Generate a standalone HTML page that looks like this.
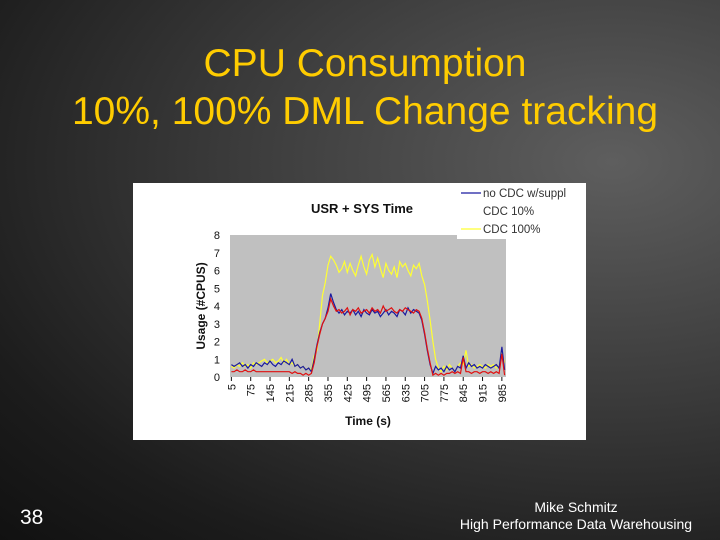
<!DOCTYPE html>
<html><head><meta charset="utf-8">
<style>
html,body{margin:0;padding:0}
body{width:720px;height:540px;overflow:hidden;position:relative;font-family:"Liberation Sans",Arial,sans-serif;
background:radial-gradient(ellipse at 85% 30%,#5e5e5e 0%,#3a3a3a 45%,#1c1c1c 80%,#111 100%);}
.t{position:absolute;left:0;width:730px;text-align:center;color:#ffcc00;font-size:39px}
</style></head><body>
<div class="t" style="top:42px">CPU Consumption</div>
<div class="t" style="top:90px">10%, 100% DML Change tracking</div>
<div style="position:absolute;left:20px;top:506px;color:#fff;font-size:21px">38</div>
<div style="position:absolute;left:430px;width:292px;top:499px;color:#fff;font-size:14px;text-align:center;line-height:17px">Mike Schmitz<br>High Performance Data Warehousing</div>
<svg id="c" width="720" height="540" style="position:absolute;left:0;top:0"></svg>
<script>
const times=[];for(let i=0;i<100;i++)times.push(5+10*i);
const xTickLabels=[5,75,145,215,285,355,425,495,565,635,705,775,845,915,985];
const yTickLabels=[0,1,2,3,4,5,6,7,8];
const seriesNames=["no CDC w/suppl","CDC 10%","CDC 100%"];
const blueVals=[.7,.6,.7,.8,.6,.7,.5,.7,.6,.8,.7,.6,.8,.7,.9,.7,.6,.8,.7,.9,.8,.7,1.0,.6,.7,.5,.6,.4,.5,.3,
1.0,1.8,2.5,3.0,3.3,3.9,4.7,4.2,3.8,3.6,3.8,3.5,3.7,3.6,3.8,3.5,3.7,3.4,3.8,3.6,3.5,3.8,3.6,3.7,3.4,3.6,3.8,3.5,3.7,3.6,
3.4,3.8,3.7,3.5,3.9,3.6,3.8,3.7,3.6,3.2,2.4,1.5,0.7,0.2,0.6,0.4,0.5,0.3,0.6,0.4,0.5,0.3,0.6,0.5,1.2,0.5,0.8,0.6,0.7,0.5,
0.6,0.5,0.7,0.6,0.5,0.6,0.7,0.5,1.7,0.4];
const redVals=[.3,.3,.4,.3,.3,.4,.3,.3,.4,.3,.3,.3,.3,.3,.3,.3,.3,.3,.3,.3,.3,.3,.2,.3,.2,.2,.1,.2,.1,.2,
.8,1.7,2.4,3.0,3.3,3.7,4.4,4.0,3.7,3.8,3.6,3.7,3.9,3.5,3.8,3.7,3.9,3.6,3.7,3.8,3.6,3.9,3.7,3.8,3.6,4.0,3.7,3.8,3.9,3.7,
3.6,3.8,3.7,3.9,3.8,3.7,3.6,3.8,3.7,3.3,2.5,1.6,0.8,0.1,0.2,0.1,0.2,0.1,0.2,0.2,0.3,0.2,0.3,0.2,1.1,0.3,0.3,0.2,0.3,0.3,
0.2,0.3,0.3,0.2,0.3,0.2,0.3,0.2,1.3,0.1];
const yellowVals=[.6,.5,.7,.6,.8,.6,.7,.5,.8,.7,.8,.9,1.0,.8,.9,1.0,.8,.9,1.1,.8,1.0,.7,.8,.6,.7,.5,.6,.4,.5,.4,
1.2,1.5,3.0,4.6,5.3,6.3,6.8,6.6,6.3,5.9,6.1,6.5,5.9,6.4,6.0,5.7,6.3,6.8,6.2,5.8,6.6,6.9,6.2,6.7,6.1,5.6,6.4,6.0,5.8,6.2,
5.6,6.5,6.2,6.4,6.0,5.7,6.3,6.1,6.4,5.7,5.2,4.3,3.2,2.0,1.0,0.5,0.3,0.6,0.4,0.7,0.5,0.3,0.6,0.8,0.7,1.5,0.6,0.7,0.5,0.6,
0.7,0.6,0.5,0.7,0.6,0.7,0.5,0.6,1.3,0.8];
const NS="http://www.w3.org/2000/svg",svg=document.getElementById('c');
function mk(t,a,txt){const e=document.createElementNS(NS,t);for(const k in a)e.setAttribute(k,a[k]);if(txt!=null)e.textContent=txt;svg.appendChild(e);return e;}
const X0=230,X1=506,Y0=377,Y1=235;
const xs=t=>X0+(t-0)/(1000)*(X1-X0);
const ys=v=>Y0-v/8*(Y0-Y1);
let e;
e=mk('rect',{x:133,y:183,width:453,height:257,fill:'#fff'});


e=mk('rect',{x:X0,y:Y1,width:X1-X0,height:Y0-Y1,fill:'#c0c0c0'});


e=mk('text',{x:362,y:213,'text-anchor':'middle','font-size':13,'font-weight':'bold',fill:'#111'},'USR + SYS Time');


yTickLabels.forEach(v=>{
 e=mk('text',{x:220,y:ys(v)+4,'text-anchor':'end','font-size':11,fill:'#111'},v);
 
 
});
xTickLabels.forEach(t=>{
 const x=xs(t);
 e=mk('line',{x1:x,y1:Y0,x2:x,y2:Y0+4,stroke:'#111','stroke-width':1});
 
 
 e=mk('text',{x:0,y:0,'text-anchor':'end','font-size':11,fill:'#111',transform:`translate(${x+4},${Y0+7}) rotate(-90)`},t);
 
 
});
e=mk('text',{x:0,y:0,'text-anchor':'middle','font-size':12,'font-weight':'bold',fill:'#111',transform:'translate(205,306) rotate(-90)'},'Usage (#CPUS)');


e=mk('text',{x:368,y:425,'text-anchor':'middle','font-size':12,'font-weight':'bold',fill:'#111'},'Time (s)');


function line(vals,col,name){
 const p=vals.map((v,i)=>xs(times[i]).toFixed(1)+','+ys(v).toFixed(1)).join(' ');
 const l=mk('polyline',{points:p,fill:'none',stroke:col,'stroke-width':1.2});
 
 
}
line(yellowVals,'#ffff33','series-cdc-100');
line(blueVals,'#1a1aa0','series-no-cdc');
line(redVals,'#e01010','series-cdc-10');
e=mk('rect',{x:457,y:183,width:129,height:56,fill:'#fff'});


const lc=['#1a1aa0','#ffffff','#ffff33'];
seriesNames.forEach((n,i)=>{
 const y=193+i*18;
 e=mk('line',{x1:461,y1:y,x2:481,y2:y,stroke:lc[i],'stroke-width':1.2});
 
 
 e=mk('text',{x:483,y:y+4,'font-size':11.5,fill:'#333'},n);
 
 
});
</script>
</body></html>
